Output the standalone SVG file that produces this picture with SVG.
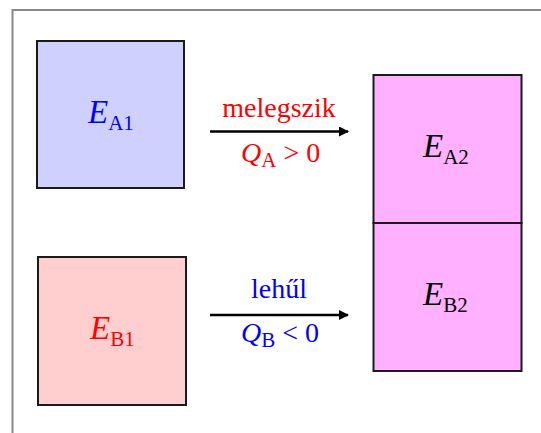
<svg xmlns="http://www.w3.org/2000/svg" width="541" height="433" viewBox="0 0 541 433">
<style>
.box{stroke:#1a1a1a;stroke-width:2}
.t{font-family:"Liberation Serif","Times New Roman",serif;font-size:28px}
.e{font-style:italic;font-size:33px}
.s{font-size:21px}
.q{font-style:italic}
.blue{fill:#0000ff}
.red{fill:#ff0000}
.blk{fill:#000}
.ln{stroke:#000;stroke-width:2.5;fill:none}
</style>
<defs>
<marker id="ah" markerWidth="10" markerHeight="10" refX="9" refY="5" orient="auto" markerUnits="userSpaceOnUse">
<path d="M0,0 L10,5 L0,10 Z" fill="#000"/>
</marker>
</defs>
<rect width="541" height="433" fill="#fff"/>
<path d="M12.5,433 V10 H541" stroke="#888" stroke-width="2" fill="none"/>
<g id="nodeA1">
<rect class="box" x="37" y="41" width="147" height="147" fill="#d0d0ff"/>
<text class="t blue" x="88" y="123"><tspan class="e">E</tspan><tspan class="s" dy="7">A1</tspan></text>
</g>
<g id="nodeB1">
<rect class="box" x="38" y="257" width="148" height="148" fill="#ffcfcf"/>
<text class="t red" x="90" y="339"><tspan class="e">E</tspan><tspan class="s" dy="7">B1</tspan></text>
</g>
<g id="nodeA2">
<rect class="box" x="373.5" y="75" width="148" height="148" fill="#ffb0ff"/>
<text class="t blk" x="423" y="157"><tspan class="e">E</tspan><tspan class="s" dy="7">A2</tspan></text>
</g>
<g id="nodeB2">
<rect class="box" x="373.5" y="223" width="148" height="148" fill="#ffb0ff"/>
<text class="t blk" x="423" y="305"><tspan class="e">E</tspan><tspan class="s" dy="7">B2</tspan></text>
</g>
<g id="connectors">
<line class="ln" x1="210" y1="131.5" x2="348" y2="131.5" marker-end="url(#ah)"/>
<line class="ln" x1="210" y1="315" x2="348" y2="315" marker-end="url(#ah)"/>
<text class="t red" x="279" y="117" text-anchor="middle">melegszik</text>
<text class="t red" x="241" y="162"><tspan class="q">Q</tspan><tspan class="s" dy="5">A</tspan><tspan dy="-5"> &gt; 0</tspan></text>
<text class="t blue" x="279" y="298" text-anchor="middle">lehűl</text>
<text class="t blue" x="241" y="342"><tspan class="q">Q</tspan><tspan class="s" dy="5">B</tspan><tspan dy="-5"> &lt; 0</tspan></text>
</g>
</svg>
